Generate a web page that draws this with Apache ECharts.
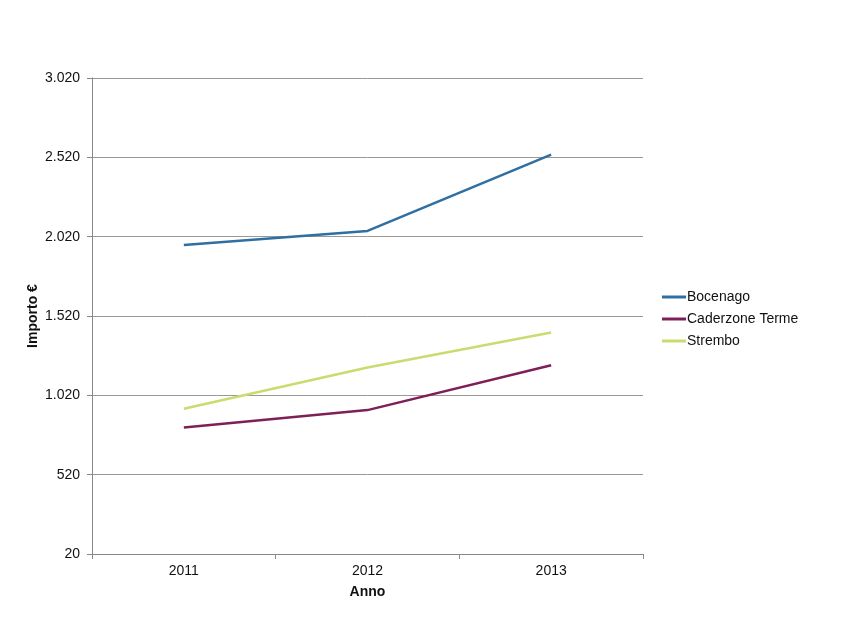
<!DOCTYPE html>
<html><head><meta charset="utf-8">
<script src="https://cdn.jsdelivr.net/npm/echarts@6/dist/echarts.min.js"></script>
<style>html,body{margin:0;padding:0;background:#fff}#c{width:850px;height:638px}</style>
</head><body><div id="c"></div>
<script>
const years = ['2011', '2012', '2013'];
const bocenago = [1967, 2056, 2537];
const caderzone = [818, 927, 1210];
const strembo = [935, 1195, 1416];
const seriesNames = ['Bocenago', 'Caderzone Terme', 'Strembo'];
const colors = ['#2f6fa1', '#7f1f57', '#c9dc6f'];
const yMin = 20, yMax = 3020, yStep = 500;

const chart = echarts.init(document.getElementById('c'));
const font = 'Liberation Sans, Arial, sans-serif';
function fmt(v){ return String(v).replace(/\B(?=(\d{3})+(?!\d))/g, '.'); }
chart.setOption({
  animation: false,
  backgroundColor: '#fff',
  textStyle: { fontFamily: font },
  grid: { left: 92, right: 207, top: 78, bottom: 84 },
  legend: {
    orient: 'vertical', left: 657, top: 285, itemGap: 8,
    itemWidth: 24, itemHeight: 3, icon: 'rect',
    textStyle: { fontSize: 14, color: '#111', fontFamily: font, padding: [0,0,0,-4] },
    data: seriesNames
  },
  xAxis: {
    type: 'category', data: years, boundaryGap: true,
    name: 'Anno', nameLocation: 'middle', nameGap: 31,
    nameTextStyle: { fontWeight: 'bold', fontSize: 14, color: '#111', fontFamily: font },
    axisLine: { lineStyle: { color: '#888', width: 1 } },
    axisTick: { show: true, length: 5, lineStyle: { color: '#888' } },
    axisLabel: { fontSize: 14, color: '#111', margin: 10 },
    splitLine: { show: false }
  },
  yAxis: {
    type: 'value', min: yMin, max: yMax, interval: yStep,
    name: 'Importo €', nameLocation: 'middle', nameGap: 52, nameRotate: 90,
    nameMoveOverlap: false,
    nameTextStyle: { fontWeight: 'bold', fontSize: 14, color: '#111', fontFamily: font },
    axisLine: { show: true, lineStyle: { color: '#888', width: 1 } },
    axisTick: { show: true, length: 5, inside: false, lineStyle: { color: '#888' } },
    axisLabel: { fontSize: 14, color: '#111', margin: 12, formatter: fmt },
    splitLine: { show: true, lineStyle: { color: '#999', width: 1 } }
  },
  series: [
    { name: seriesNames[0], type: 'line', data: bocenago },
    { name: seriesNames[1], type: 'line', data: caderzone },
    { name: seriesNames[2], type: 'line', data: strembo }
  ].map((s, i) => Object.assign(s, {
    color: colors[i], symbol: 'none', lineStyle: { width: 2.5, color: colors[i] }
  }))
});
</script></body></html>
